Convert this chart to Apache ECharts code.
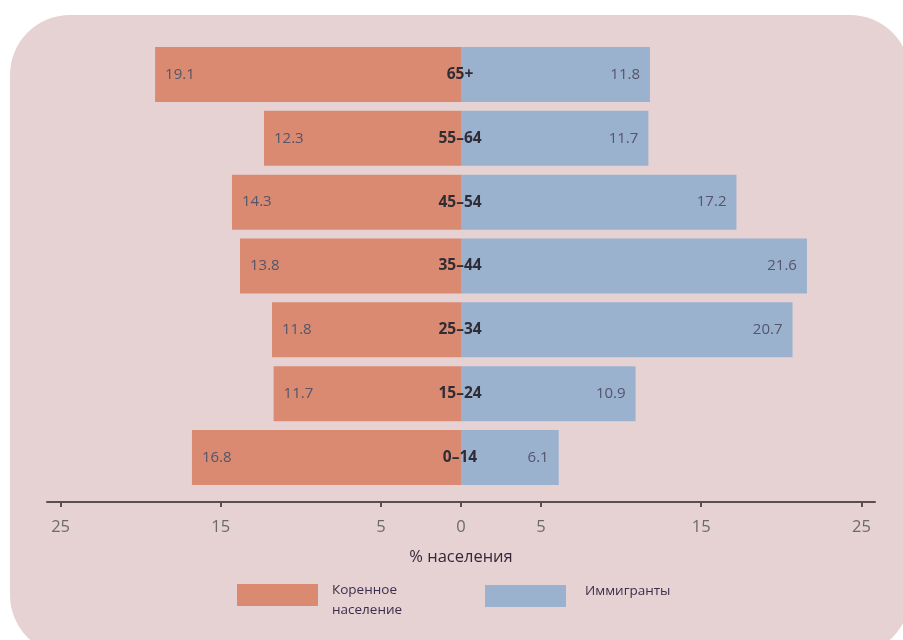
<!DOCTYPE html>
<html>
<head>
<meta charset="utf-8">
<script src="https://cdn.jsdelivr.net/npm/echarts@6/dist/echarts.min.js"></script>
<style>
  html, body { margin: 0; padding: 0; background: #ffffff; width: 903px; height: 640px; overflow: hidden; }
  #bg { position: absolute; left: 10px; top: 15px; width: 900px; height: 640px; border-radius: 60px; background: #e6d2d3; }
  #chart { position: absolute; left: 0; top: 0; width: 903px; height: 640px; }
</style>
</head>
<body>
<div id="bg"></div>
<div id="chart"></div>
<script>
const categories = ['0–14', '15–24', '25–34', '35–44', '45–54', '55–64', '65+'];
const nativePop = [16.8, 11.7, 11.8, 13.8, 14.3, 12.3, 19.1];
const immigrants = [6.1, 10.9, 20.7, 21.6, 17.2, 11.7, 11.8];
const tickValues = [-25, -15, -5, 0, 5, 15, 25];
const seriesNames = ['Коренное население', 'Иммигранты'];

const FONT = '"Open Sans", "Noto Sans", sans-serif';
const chart = echarts.init(document.getElementById('chart'), null, { renderer: 'canvas' });

const valueLabel = {
  show: true,
  fontFamily: FONT,
  fontSize: 15,
  color: '#55546a',
  distance: 10,
  formatter: p => Math.abs(p.value).toFixed(1)
};

const legendRich = {
  a: { fontFamily: FONT, fontSize: 13.5, color: '#3a2f4a', lineHeight: 20 },
  s: { fontFamily: FONT, fontSize: 8, lineHeight: 10 }
};

chart.setOption({
  backgroundColor: 'transparent',
  animation: false,
  grid: { left: 47, right: 28, top: 42.6, height: 446.8, containLabel: false },
  xAxis: {
    type: 'value',
    min: -25.85,
    max: 25.85,
    offset: 12.5,
    name: '% населения',
    nameLocation: 'middle',
    nameGap: 47,
    nameTextStyle: { fontFamily: FONT, fontSize: 16.5, color: '#33283a' },
    axisLine: { show: true, lineStyle: { color: '#5a4e4e', width: 2 } },
    axisTick: { show: true, customValues: tickValues, length: 5, lineStyle: { color: '#5a4e4e', width: 2 } },
    axisLabel: {
      customValues: tickValues,
      margin: 17,
      fontFamily: FONT,
      fontSize: 16.5,
      color: '#6a6a6a',
      formatter: v => String(Math.abs(v))
    },
    splitLine: { show: false }
  },
  yAxis: {
    type: 'category',
    data: categories,
    z: 10,
    axisLine: { show: false },
    axisTick: { show: false },
    axisLabel: {
      margin: -413,
      align: 'center',
      fontFamily: FONT,
      fontWeight: 'bold',
      fontSize: 15.5,
      color: '#302c36'
    }
  },
  legend: [
    {
      left: 237, top: 571, padding: 0,
      itemWidth: 81, itemHeight: 22,
      icon: 'rect',
      data: [seriesNames[0]],
      formatter: () => '{s| }\n{a|Коренное}\n{a|население}',
      textStyle: { padding: [0, 0, 0, 9], rich: legendRich }
    },
    {
      left: 485, top: 584, padding: 0,
      itemWidth: 81, itemHeight: 22,
      icon: 'rect',
      data: [seriesNames[1]],
      formatter: name => '{a|' + name + '}\n{s| }',
      textStyle: { padding: [0, 0, 0, 14], rich: legendRich }
    }
  ],
  series: [
    {
      name: seriesNames[0],
      type: 'bar',
      stack: 'pyr',
      barCategoryGap: '13.8%',
      data: nativePop.map(v => -v),
      itemStyle: { color: '#d98a70' },
      label: Object.assign({}, valueLabel, { position: 'insideLeft' })
    },
    {
      name: seriesNames[1],
      type: 'bar',
      stack: 'pyr',
      barCategoryGap: '13.8%',
      data: immigrants,
      itemStyle: { color: '#9bb2cf' },
      label: Object.assign({}, valueLabel, { position: 'insideRight' })
    }
  ]
});
</script>
</body>
</html>
